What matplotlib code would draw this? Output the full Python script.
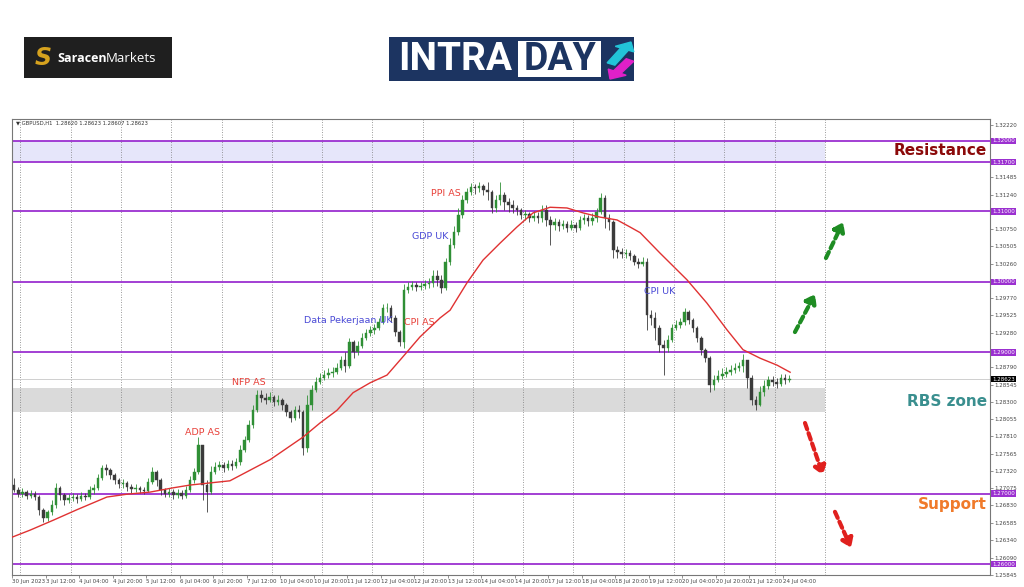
import matplotlib
matplotlib.use("Agg")
import matplotlib.pyplot as plt
import numpy as np
from matplotlib.patches import Rectangle, FancyArrow
from matplotlib.transforms import blended_transform_factory

# GBPUSD H1 (30 Jun - 24 Jul 2023), drawn as 2-hour candles, x in hourly bar units
first_open = 1.2712
closes = [
    1.2705, 1.2699, 1.2702, 1.2696, 1.2699, 1.2695, 1.2677, 1.2665, 1.2674, 1.2684,
    1.2708, 1.2698, 1.2691, 1.2694, 1.2695, 1.2692, 1.2696, 1.2695, 1.2705, 1.2708,
    1.2722, 1.2736, 1.2733, 1.2726, 1.2719, 1.2713, 1.2715, 1.2709, 1.2706, 1.2708,
    1.2705, 1.2704, 1.2716, 1.2730, 1.2719, 1.2705, 1.2699, 1.2702, 1.2698, 1.2701,
    1.2696, 1.2705, 1.2719, 1.2730, 1.2769, 1.2712, 1.2702, 1.2730, 1.2738, 1.2740,
    1.2736, 1.2742, 1.2739, 1.2745, 1.2762, 1.2776, 1.2797, 1.2818, 1.2840, 1.2835,
    1.2833, 1.2837, 1.2830, 1.2833, 1.2826, 1.2816, 1.2807, 1.2818, 1.2816, 1.2765,
    1.2826, 1.2847, 1.2858, 1.2864, 1.2868, 1.2871, 1.2872, 1.2878, 1.2889, 1.2881,
    1.2915, 1.2901, 1.2909, 1.2921, 1.2928, 1.2932, 1.2935, 1.2943, 1.2963, 1.2963,
    1.2949, 1.2929, 1.2915, 1.2989, 1.2993, 1.2996, 1.2993, 1.2994, 1.2997, 1.2999,
    1.3009, 1.3003, 1.2991, 1.3028, 1.3052, 1.3071, 1.3095, 1.3116, 1.3128, 1.3135,
    1.3133, 1.3136, 1.3130, 1.3128, 1.3105, 1.3116, 1.3123, 1.3113, 1.3109, 1.3105,
    1.3102, 1.3095, 1.3096, 1.3091, 1.3094, 1.3091, 1.3102, 1.3088, 1.3081, 1.3085,
    1.3079, 1.3082, 1.3077, 1.3081, 1.3077, 1.3088, 1.3091, 1.3087, 1.3091, 1.3099,
    1.3119, 1.3091, 1.3085, 1.3045, 1.3043, 1.3040, 1.3041, 1.3037, 1.3028, 1.3026,
    1.3028, 1.2953, 1.2949, 1.2935, 1.2911, 1.2906, 1.2918, 1.2935, 1.2939, 1.2943,
    1.2957, 1.2946, 1.2935, 1.2921, 1.2904, 1.2892, 1.2854, 1.2861, 1.2867, 1.2870,
    1.2872, 1.2875, 1.2878, 1.2881, 1.2889, 1.2864, 1.2833, 1.2826, 1.2844, 1.2852,
    1.2861, 1.2858, 1.2855, 1.2864, 1.2861, 1.2862,
]
highs = [
    1.2722, 1.2709, 1.2708, 1.2705, 1.2705, 1.2704, 1.2698, 1.2680, 1.2677, 1.2691,
    1.2715, 1.2711, 1.2701, 1.2699, 1.2701, 1.2699, 1.2702, 1.2701, 1.2711, 1.2713,
    1.2728, 1.2740, 1.2742, 1.2736, 1.2729, 1.2722, 1.2721, 1.2718, 1.2713, 1.2713,
    1.2711, 1.2709, 1.2722, 1.2738, 1.2733, 1.2722, 1.2708, 1.2708, 1.2706, 1.2706,
    1.2705, 1.2711, 1.2725, 1.2736, 1.2780, 1.2769, 1.2719, 1.2739, 1.2745, 1.2746,
    1.2745, 1.2748, 1.2748, 1.2750, 1.2769, 1.2782, 1.2804, 1.2826, 1.2847, 1.2847,
    1.2843, 1.2844, 1.2840, 1.2840, 1.2835, 1.2828, 1.2818, 1.2824, 1.2826, 1.2818,
    1.2840, 1.2854, 1.2865, 1.2871, 1.2875, 1.2878, 1.2879, 1.2885, 1.2895, 1.2901,
    1.2921, 1.2918, 1.2916, 1.2928, 1.2933, 1.2938, 1.2940, 1.2949, 1.2969, 1.2970,
    1.2967, 1.2953, 1.2932, 1.2997, 1.3000, 1.3001, 1.3000, 1.3000, 1.3003, 1.3006,
    1.3017, 1.3017, 1.3010, 1.3034, 1.3062, 1.3079, 1.3105, 1.3123, 1.3133, 1.3140,
    1.3139, 1.3142, 1.3139, 1.3142, 1.3130, 1.3123, 1.3142, 1.3128, 1.3119, 1.3116,
    1.3109, 1.3105, 1.3102, 1.3099, 1.3101, 1.3099, 1.3109, 1.3109, 1.3094, 1.3091,
    1.3089, 1.3088, 1.3087, 1.3088, 1.3085, 1.3094, 1.3096, 1.3095, 1.3098, 1.3105,
    1.3126, 1.3123, 1.3096, 1.3088, 1.3051, 1.3048, 1.3047, 1.3045, 1.3040, 1.3034,
    1.3035, 1.3034, 1.2960, 1.2957, 1.2939, 1.2918, 1.2925, 1.2940, 1.2946, 1.2949,
    1.2963, 1.2960, 1.2949, 1.2938, 1.2923, 1.2906, 1.2895, 1.2868, 1.2875, 1.2878,
    1.2879, 1.2882, 1.2885, 1.2887, 1.2898, 1.2887, 1.2868, 1.2838, 1.2852, 1.2861,
    1.2867, 1.2867, 1.2864, 1.2870, 1.2870, 1.2868,
]
lows = [
    1.2702, 1.2695, 1.2695, 1.2692, 1.2694, 1.2691, 1.2670, 1.2660, 1.2661, 1.2670,
    1.2680, 1.2691, 1.2684, 1.2687, 1.2689, 1.2687, 1.2689, 1.2691, 1.2692, 1.2699,
    1.2705, 1.2719, 1.2726, 1.2721, 1.2713, 1.2708, 1.2708, 1.2704, 1.2701, 1.2702,
    1.2701, 1.2699, 1.2702, 1.2713, 1.2711, 1.2698, 1.2695, 1.2695, 1.2692, 1.2694,
    1.2692, 1.2694, 1.2702, 1.2715, 1.2728, 1.2691, 1.2674, 1.2699, 1.2728, 1.2733,
    1.2730, 1.2733, 1.2733, 1.2736, 1.2740, 1.2759, 1.2773, 1.2793, 1.2816, 1.2830,
    1.2827, 1.2830, 1.2824, 1.2826, 1.2818, 1.2810, 1.2801, 1.2804, 1.2807, 1.2755,
    1.2759, 1.2818, 1.2844, 1.2855, 1.2861, 1.2864, 1.2865, 1.2870, 1.2875, 1.2872,
    1.2878, 1.2892, 1.2896, 1.2906, 1.2918, 1.2923, 1.2926, 1.2932, 1.2940, 1.2957,
    1.2943, 1.2923, 1.2909, 1.2906, 1.2984, 1.2989, 1.2987, 1.2989, 1.2990, 1.2991,
    1.2993, 1.2994, 1.2984, 1.2989, 1.3024, 1.3048, 1.3067, 1.3091, 1.3112, 1.3123,
    1.3125, 1.3128, 1.3123, 1.3116, 1.3098, 1.3099, 1.3109, 1.3102, 1.3099, 1.3098,
    1.3095, 1.3089, 1.3088, 1.3085, 1.3087, 1.3084, 1.3085, 1.3079, 1.3052, 1.3074,
    1.3072, 1.3075, 1.3071, 1.3074, 1.3071, 1.3074, 1.3082, 1.3079, 1.3081, 1.3085,
    1.3096, 1.3077, 1.3074, 1.3034, 1.3034, 1.3034, 1.3034, 1.3031, 1.3024, 1.3020,
    1.3023, 1.2932, 1.2939, 1.2918, 1.2901, 1.2868, 1.2901, 1.2915, 1.2932, 1.2935,
    1.2939, 1.2940, 1.2929, 1.2915, 1.2896, 1.2887, 1.2844, 1.2847, 1.2858, 1.2862,
    1.2865, 1.2868, 1.2871, 1.2874, 1.2872, 1.2850, 1.2826, 1.2818, 1.2824, 1.2838,
    1.2848, 1.2852, 1.2850, 1.2852, 1.2855, 1.2858,
]

# moving average (red line), read at hourly-bar positions
ma_bar = [0, 8.6, 19.6, 31, 45.3, 54.9, 65.9, 76.8, 85, 94.5,
          104, 113.6, 123.2, 138.9, 147, 155.1, 162.8, 170.9, 179, 186.6,
          194.7, 204.3, 209.1, 217.2, 224.8, 232.9, 241, 248.7, 256.8, 264.9,
          272.6, 280.7, 288.8, 295, 299.8, 309.3, 322.2, 331.7, 341.3,
          348.9, 357, 365.2, 371.4]
ma_price = [1.2638, 1.2648, 1.2662, 1.2677, 1.2695, 1.2699, 1.2702, 1.2708, 1.2712, 1.2715,
            1.2718, 1.2733, 1.2748, 1.2780, 1.2800, 1.2818, 1.2843, 1.2857, 1.2868, 1.2894,
            1.2922, 1.2949, 1.2960, 1.2999, 1.3031, 1.3055, 1.3078, 1.3098, 1.3106, 1.3105,
            1.3098, 1.3092, 1.3088, 1.3078, 1.3070, 1.3041, 1.3003, 1.2970, 1.2932,
            1.2904, 1.2892, 1.2882, 1.2872]

levels = [1.32, 1.317, 1.31, 1.30, 1.29, 1.27, 1.26]
resistance_band = (1.317, 1.32)
rbs_zone = (1.2816, 1.2850)
zone_end = 388
last_price = 1.28623

price_ticks = [1.32220, 1.31485, 1.31240, 1.30750, 1.30505, 1.30260, 1.29770, 1.29525,
               1.29280, 1.28790, 1.28545, 1.28300, 1.28055, 1.27810, 1.27565, 1.27320,
               1.27075, 1.26830, 1.26585, 1.26340, 1.26090, 1.25845]

time_labels = ["30 Jun 2023", "3 Jul 12:00", "4 Jul 04:00", "4 Jul 20:00", "5 Jul 12:00",
               "6 Jul 04:00", "6 Jul 20:00", "7 Jul 12:00", "10 Jul 04:00", "10 Jul 20:00",
               "11 Jul 12:00", "12 Jul 04:00", "12 Jul 20:00", "13 Jul 12:00", "14 Jul 04:00",
               "14 Jul 20:00", "17 Jul 12:00", "18 Jul 04:00", "18 Jul 20:00", "19 Jul 12:00",
               "20 Jul 04:00", "20 Jul 20:00", "21 Jul 12:00", "24 Jul 04:00"]
midnights = list(range(4, 389, 24))

# (text, bar, price, colour)
events = [
    ("PPI AS", 207.2, 1.3126, "#e8413a"),
    ("GDP UK", 199.5, 1.3065, "#4a4ad6"),
    ("Data Pekerjaan UK", 160.4, 1.2946, "#4a4ad6"),
    ("CPI AS", 194.3, 1.2942, "#e8413a"),
    ("NFP AS", 113.1, 1.2857, "#e8413a"),
    ("ADP AS", 90.7, 1.2786, "#e8413a"),
    ("CPI UK", 309.3, 1.2987, "#4a4ad6"),
]

# scenario arrows: (tail bar, tail price, head bar, head price, colour)
arrows = [
    (388.5, 1.3034, 396.7, 1.3085, "#1e8c23"),
    (373.7, 1.2929, 383.3, 1.2983, "#1e8c23"),
    (378.5, 1.2800, 387.1, 1.2726, "#e0201e"),
    (392.8, 1.2674, 400.5, 1.2623, "#e0201e"),
]

W, H = 1024, 587
fig = plt.figure(figsize=(W / 100, H / 100), dpi=100)
ax = fig.add_axes([12 / W, 1 - 575 / H, 978 / W, 456 / H])

# zones
ax.fill_between([0, zone_end], resistance_band[0], resistance_band[1], color="#e6e6fa", lw=0, zorder=0)
ax.fill_between([0, zone_end], rbs_zone[0], rbs_zone[1], color="#dadada", lw=0, zorder=0)

# day separators
for d in midnights:
    ax.axvline(d, color="#7a7a7a", lw=0.6, ls=(0, (1, 2)), zorder=1)

# key levels
for lv in levels:
    ax.axhline(lv, color="#9b30d0", lw=1.3, zorder=2)
ax.axhline(last_price, color="#c8c8c8", lw=0.6, zorder=1)

# candles
opens = [first_open] + closes[:-1]
xs = 2 * np.arange(len(closes)) + 1
o = np.array(opens)
c = np.array(closes)
hi = np.maximum(np.array(highs), np.maximum(o, c))
lo = np.minimum(np.array(lows), np.minimum(o, c))
up = c >= o
col = np.where(up, "#2f8f35", "#3b3b3b")
ax.vlines(xs, lo, hi, colors=col, lw=0.6, zorder=3)
body = np.maximum(np.abs(c - o), 0.00005)
ax.bar(xs, body, bottom=np.minimum(o, c), width=1.2, color=col, edgecolor=col, lw=0.3, zorder=4)

# moving average
ax.plot(ma_bar, ma_price, color="#e03232", lw=1.0, zorder=5)

# event labels
for txt, bx, py, cl in events:
    ax.text(bx, py, txt, color=cl, fontsize=6.8, ha="center", va="center", zorder=6)

# scenario arrows
for tx, ty, hx, hy, cl in arrows:
    ax.annotate("", xy=(hx, hy), xytext=(tx, ty),
                arrowprops=dict(arrowstyle="-|>,head_length=0.5,head_width=0.35", lw=3,
                                ls=(0, (1.6, 1.0)), color=cl, shrinkA=0, shrinkB=0),
                zorder=6)

bt = blended_transform_factory(ax.transAxes, ax.transData)
ax.text(0.997, 1.3186, "Resistance", transform=bt, ha="right", va="center",
        fontsize=11, fontweight="heavy", color="#8b0a0a", zorder=7)
ax.text(0.997, 1.2830, "RBS zone", transform=bt, ha="right", va="center",
        fontsize=11, fontweight="heavy", color="#3a8f8f", zorder=7)
ax.text(0.997, 1.2685, "Support", transform=bt, ha="right", va="center",
        fontsize=11, fontweight="heavy", color="#f07a2a", zorder=7)

# price axis labels for levels
for lv in levels:
    ax.text(1.002, lv, f"{lv:.5f}", transform=bt, ha="left", va="center", fontsize=4,
            color="white", zorder=8, clip_on=False,
            bbox=dict(boxstyle="square,pad=0.15", fc="#9b30d0", ec="none"))
ax.text(1.002, last_price, f"{last_price:.5f}", transform=bt, ha="left", va="center",
        fontsize=4, color="white", zorder=8, clip_on=False,
        bbox=dict(boxstyle="square,pad=0.15", fc="black", ec="none"))

ax.text(0.004, 0.996, "\u25bc GBPUSD,H1  1.28620 1.28623 1.28607 1.28623",
        transform=ax.transAxes, ha="left", va="top", fontsize=3.8, color="#333333")

ax.set_xlim(0, 466.8)
ax.set_ylim(1.25844, 1.32312)
ax.yaxis.tick_right()
ax.set_yticks(price_ticks)
ax.set_yticklabels([f"{v:.5f}" for v in price_ticks], fontsize=4, color="#444444")
ax.set_xticks(np.arange(len(time_labels)) * 16)
ax.set_xticklabels(time_labels, fontsize=4, color="#444444", ha="left")
ax.tick_params(axis="both", length=2, width=0.5, pad=1, colors="#666666", labelcolor="#444444")
for s in ax.spines.values():
    s.set_color("#777777")
    s.set_linewidth(0.8)

# logos
fig.patches.append(Rectangle((24 / W, 1 - 78 / H), 148 / W, 41 / H, transform=fig.transFigure,
                             fc="#1f1f1f", ec="none"))
fig.text(43 / W, 1 - 58 / H, "S", fontsize=17, fontweight="heavy", fontstyle="italic",
         color="#d6a21e", ha="center", va="center")
fig.text(57 / W, 1 - 58 / H, "Saracen", fontsize=9, fontweight="bold", color="white",
         family="Open Sans", ha="left", va="center")
fig.text(106 / W, 1 - 58 / H, "Markets", fontsize=9.5, color="white",
         family="Open Sans", ha="left", va="center")

fig.patches.append(Rectangle((389 / W, 1 - 81 / H), 245 / W, 44 / H, transform=fig.transFigure,
                             fc="#1c3461", ec="none"))
fig.patches.append(Rectangle((518 / W, 1 - 77 / H), 83 / W, 36 / H, transform=fig.transFigure,
                             fc="white", ec="none"))
fig.text(455 / W, 1 - 59.5 / H, "INTRA", fontsize=28, fontweight="bold", color="white",
         family="Roboto", ha="center", va="center")
fig.text(560 / W, 1 - 59.5 / H, "DAY", fontsize=27, fontweight="bold", color="#1c3461",
         family="Roboto", ha="center", va="center")
fig.patches.append(FancyArrow(611 / W, 1 - 64 / H, 20 / W, 22 / H, width=5 / H,
                              head_width=12 / H, head_length=8 / H, transform=fig.transFigure,
                              color="#22c4d8", length_includes_head=True))
fig.patches.append(FancyArrow(630 / W, 1 - 60 / H, -20 / W, -19 / H, width=5 / H,
                              head_width=12 / H, head_length=8 / H, transform=fig.transFigure,
                              color="#e020c8", length_includes_head=True))

fig.savefig("out.png", dpi=100)
